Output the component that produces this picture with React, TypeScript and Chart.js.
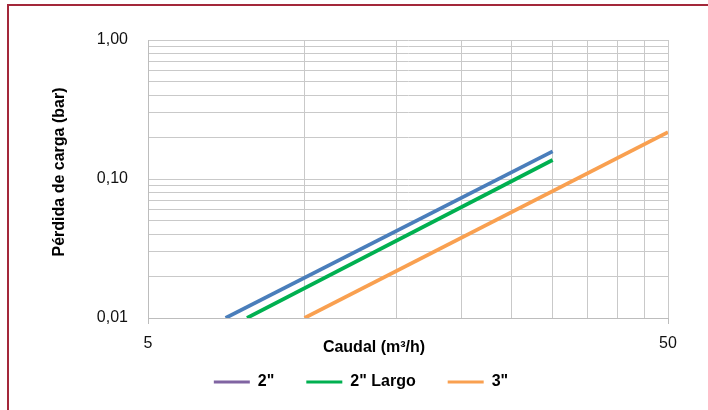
import React, { useEffect, useRef } from "react";
import { Chart, registerables } from "chart.js";

Chart.register(...registerables);

// ---- data ----
const CAUDAL_2 = [7.05, 30];
const PERDIDA_2 = [0.01, 0.158];
const CAUDAL_2L = [7.75, 30];
const PERDIDA_2L = [0.01, 0.137];
const CAUDAL_3 = [10, 50];
const PERDIDA_3 = [0.01, 0.217];

const SERIES_NAMES = ['2"', '2" Largo', '3"'];

const X_GRID = [5, 10, 15, 20, 25, 30, 35, 40, 45, 50];
const X_LABELED = [5, 50];
const Y_GRID = [
  0.01, 0.02, 0.03, 0.04, 0.05, 0.06, 0.07, 0.08, 0.09,
  0.1, 0.2, 0.3, 0.4, 0.5, 0.6, 0.7, 0.8, 0.9, 1,
];
const Y_LABELED = [0.01, 0.1, 1];

const X_TITLE = "Caudal (m³/h)";
const Y_TITLE = "Pérdida de carga (bar)";

const FONT = "'Liberation Sans', Arial, sans-serif";
const GRID = "#c9c9c9";

const PAD = { left: 54, right: 40, top: 40, bottom: 10 };
const LEGEND_PAD = 32;
const LEGEND_TEXT_Y = 382;
const LEGEND_H = 30;

const isIn = (list: number[], v: number) =>
  list.some((x) => Math.abs(x - v) < 1e-9 * Math.max(1, Math.abs(x)));

const toPts = (xs: number[], ys: number[]) => xs.map((x, i) => ({ x, y: ys[i] }));

const titlesPlugin = {
  id: "axisTitles",
  afterLayout(chart: any) {
    const lg = chart.legend;
    if (lg) {
      const top = LEGEND_TEXT_Y - 8 - LEGEND_PAD;
      lg.top = top;
      lg.bottom = top + 16 + LEGEND_PAD + 10;
      lg.height = lg.bottom - lg.top;
    }
  },
  afterDraw(chart: any) {
    const { ctx, chartArea } = chart;
    ctx.save();
    ctx.fillStyle = "#000";
    ctx.font = `bold 16px ${FONT}`;
    ctx.textAlign = "center";
    ctx.textBaseline = "middle";
    // x title, on the same line as the x tick labels
    ctx.fillText(X_TITLE, chartArea.left + 226, chartArea.bottom + 30);
    // y title
    ctx.translate(60, chartArea.top + 132);
    ctx.rotate(-Math.PI / 2);
    ctx.fillText(Y_TITLE, 0, 0);
    ctx.restore();
  },
};

export default function App() {
  const ref = useRef<HTMLCanvasElement>(null);

  useEffect(() => {
    if (!ref.current) return;
    const chart = new Chart(ref.current, {
      type: "line",
      data: {
        datasets: [
          {
            label: SERIES_NAMES[0],
            data: toPts(CAUDAL_2, PERDIDA_2),
            borderColor: "#4a7ebb",
            backgroundColor: "#8064a2",
            borderWidth: 3.7,
            pointRadius: 0,
          },
          {
            label: SERIES_NAMES[1],
            data: toPts(CAUDAL_2L, PERDIDA_2L),
            borderColor: "#00b050",
            backgroundColor: "#00b050",
            borderWidth: 3.7,
            pointRadius: 0,
          },
          {
            label: SERIES_NAMES[2],
            data: toPts(CAUDAL_3, PERDIDA_3),
            borderColor: "#f9a050",
            backgroundColor: "#f9a050",
            borderWidth: 3.7,
            pointRadius: 0,
          },
        ],
      },
      options: {
        responsive: false,
        animation: false,
        layout: { padding: PAD },
        plugins: {
          tooltip: { enabled: false },
          legend: {
            position: "bottom",
            maxHeight: LEGEND_H,
            labels: {
              boxWidth: 36,
              boxHeight: 3,
              padding: LEGEND_PAD,
              color: "#000",
              font: { family: FONT, size: 16, weight: "bold" },
              generateLabels: (c: any) =>
                (Chart.defaults.plugins.legend.labels as any)
                  .generateLabels(c)
                  .map((l: any) => ({ ...l, lineWidth: 0 })),
            },
          },
        },
        scales: {
          x: {
            type: "logarithmic",
            min: 5,
            max: 50,
            afterBuildTicks: (s: any) => {
              s.ticks = X_GRID.map((v) => ({ value: v }));
            },
            afterFit: (s: any) => {
              s.height = 410 - PAD.bottom - LEGEND_H - 318;
            },
            ticks: {
              autoSkip: false,
              maxRotation: 0,
              padding: 10,
              color: "#111",
              font: { family: FONT, size: 16 },
              callback: (v: any) => (isIn(X_LABELED, Number(v)) ? String(v) : ""),
            },
            grid: {
              color: GRID,
              tickLength: 6,
              tickColor: (ctx: any) =>
                ctx.tick && isIn(X_LABELED, ctx.tick.value) ? "#bdbdbd" : "rgba(0,0,0,0)",
            },
            border: { color: "#bdbdbd" },
          },
          y: {
            type: "logarithmic",
            min: 0.01,
            max: 1,
            afterBuildTicks: (s: any) => {
              s.ticks = Y_GRID.map((v) => ({ value: v }));
            },
            afterFit: (s: any) => {
              s.width = 148 - PAD.left;
            },
            ticks: {
              autoSkip: false,
              padding: 20,
              color: "#111",
              font: { family: FONT, size: 16 },
              callback: (v: any) =>
                isIn(Y_LABELED, Number(v)) ? Number(v).toFixed(2).replace(".", ",") : "",
            },
            grid: { color: GRID, drawTicks: false },
            border: { color: "#bdbdbd" },
          },
        },
      } as any,
      plugins: [titlesPlugin],
    });
    return () => chart.destroy();
  }, []);

  return (
    <div
      style={{
        position: "absolute",
        left: 0,
        top: 0,
        width: 708,
        height: 410,
        overflow: "hidden",
        background: "#fff",
      }}
    >
      <div
        style={{
          position: "absolute",
          left: 7,
          top: 4,
          width: 800,
          height: 500,
          borderLeft: "2px solid #a3283a",
          borderTop: "2px solid #a3283a",
        }}
      />
      <canvas
        ref={ref}
        width={708}
        height={410}
        style={{ position: "absolute", left: 0, top: 0, width: 708, height: 410 }}
      />
    </div>
  );
}
